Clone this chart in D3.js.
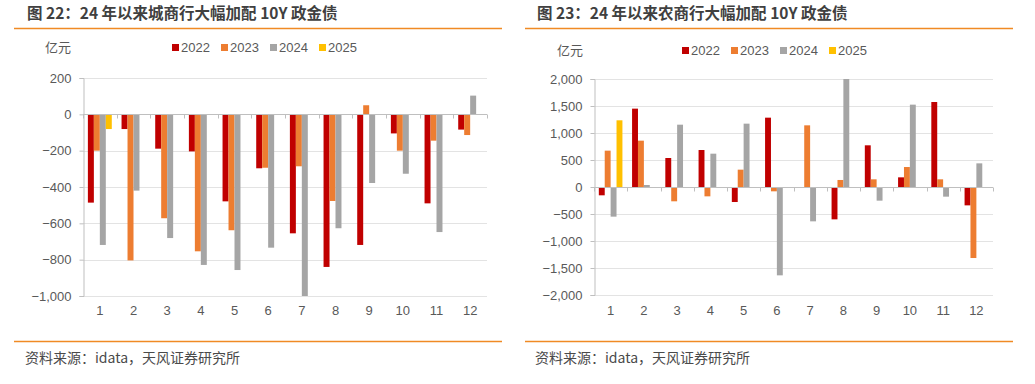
<!DOCTYPE html>
<html>
<head>
<meta charset="utf-8">
<script src="https://cdn.jsdelivr.net/npm/d3@7/dist/d3.min.js"></script>
<style>
  body { margin: 0; background: #fff; }
  svg { display: block; }
  text { font-family: "Liberation Sans", Arial, "Noto Sans CJK SC", sans-serif; }
  .cjk { font-family: "Noto Sans CJK SC", sans-serif; }
</style>
</head>
<body>
<svg width="1035" height="384"></svg>
<script>
var months = ["1", "2", "3", "4", "5", "6", "7", "8", "9", "10", "11", "12"];
var years = ["2022", "2023", "2024", "2025"];
var colors = ["#C00000", "#ED7D31", "#A5A5A5", "#FFC000"];

// 城商行 (亿元)
var city2022 = [-486, -81, -189, -204, -479, -297, -655, -840, -719, -105, -490, -84];
var city2023 = [-200, -804, -572, -754, -638, -294, -286, -477, 50, -200, -145, -114];
var city2024 = [-719, -420, -681, -829, -857, -734, -1000, -627, -378, -327, -648, 103];
var city2025 = [-81, null, null, null, null, null, null, null, null, null, null, null];
var cityTicks = [-1000, -800, -600, -400, -200, 0, 200];

// 农商行 (亿元)
var rural2022 = [-154, 1451, 537, 685, -278, 1284, null, -599, 772, 179, 1574, -340];
var rural2023 = [673, 858, -265, -173, 321, -80, 1142, 130, 142, 370, 142, -1315];
var rural2024 = [-549, 37, 1154, 617, 1173, -1636, -636, 2000, -253, 1525, -179, 438];
var rural2025 = [1235, null, null, null, null, null, null, null, null, null, null, null];
var ruralTicks = [-2000, -1500, -1000, -500, 0, 500, 1000, 1500, 2000];

var svg = d3.select("svg");
var fmt = d3.format(",");

function drawChart(o) {
    var g = svg.append("g");

    // title + orange rules
    g.append("text").attr("class", "cjk")
        .attr("x", o.titleX).attr("y", 19)
        .attr("font-size", 15.5).attr("font-weight", "bold").attr("fill", "#404040")
        .text(o.title);
    g.append("line").attr("x1", o.ruleX0).attr("x2", o.ruleX1).attr("y1", 28.5).attr("y2", 28.5)
        .attr("stroke", "#F08A24").attr("stroke-width", 1.5);
    g.append("line").attr("x1", o.ruleX0).attr("x2", o.ruleX1).attr("y1", 341.5).attr("y2", 341.5)
        .attr("stroke", "#F08A24").attr("stroke-width", 1.5);
    g.append("text").attr("class", "cjk")
        .attr("x", o.titleX - 2).attr("y", 363)
        .attr("font-size", 14).attr("fill", "#4a4a4a")
        .text("资料来源：idata，天风证券研究所");

    // unit
    g.append("text").attr("class", "cjk")
        .attr("x", o.unitX).attr("y", o.legendY + 5)
        .attr("font-size", 13).attr("fill", "#595959")
        .text("亿元");

    // legend
    var lg = g.selectAll(".lg").data(years).enter().append("g")
        .attr("transform", function(d, i) { return "translate(" + (o.legendX + i * 49) + "," + o.legendY + ")"; });
    lg.append("rect").attr("x", 0).attr("y", -3).attr("width", 7).attr("height", 7)
        .attr("fill", function(d, i) { return colors[i]; });
    lg.append("text").attr("x", 9).attr("y", 5)
        .attr("font-size", 13).attr("fill", "#595959")
        .text(function(d) { return d; });

    var x = d3.scaleBand().domain(months).range([o.x0, o.x1]).paddingInner(0.29).paddingOuter(0.145);
    var xs = d3.scaleBand().domain(years).range([0, x.bandwidth()]);
    var y = d3.scaleLinear().domain(o.domain).range([o.yBottom, o.yTop]);

    // grid
    g.selectAll(".grid").data(o.ticks).enter().append("line")
        .attr("x1", o.x0).attr("x2", o.x1)
        .attr("y1", function(d) { return Math.round(y(d)) + 0.5; })
        .attr("y2", function(d) { return Math.round(y(d)) + 0.5; })
        .attr("stroke", "#E3E3E3");

    // y axis
    var ya = g.append("g").attr("transform", "translate(" + (o.x0 + 0.5) + ",0)")
        .call(d3.axisLeft(y).tickValues(o.ticks).tickFormat(fmt).tickSize(4).tickPadding(8));
    ya.select(".domain").attr("stroke", "#BFBFBF");
    ya.selectAll(".tick line").attr("stroke", "#BFBFBF");
    ya.selectAll(".tick text").attr("font-size", 13).attr("fill", "#595959")
        .attr("font-family", "Liberation Sans, Arial, sans-serif");

    // bars
    var rows = [];
    o.series.forEach(function(s, si) {
        s.forEach(function(v, mi) {
            if (v !== null) rows.push({ m: months[mi], yr: years[si], v: v, c: colors[si] });
        });
    });
    g.selectAll(".bar").data(rows).enter().append("rect")
        .attr("x", function(d) { return x(d.m) + xs(d.yr); })
        .attr("width", xs.bandwidth())
        .attr("y", function(d) { return Math.min(y(d.v), y(0)); })
        .attr("height", function(d) { return Math.abs(y(d.v) - y(0)); })
        .attr("fill", function(d) { return d.c; });

    // zero baseline with category ticks
    var y0 = Math.round(y(0)) + 0.5;
    g.append("line").attr("x1", o.x0).attr("x2", o.x1).attr("y1", y0).attr("y2", y0)
        .attr("stroke", "#BFBFBF");
    var step = x.step();
    g.selectAll(".xt").data(d3.range(months.length + 1)).enter().append("line")
        .attr("x1", function(i) { return Math.round(o.x0 + i * step) + 0.5; })
        .attr("x2", function(i) { return Math.round(o.x0 + i * step) + 0.5; })
        .attr("y1", y0).attr("y2", y0 + 4)
        .attr("stroke", "#BFBFBF");

    // x labels
    g.selectAll(".xl").data(months).enter().append("text")
        .attr("x", function(d) { return x(d) + x.bandwidth() / 2; })
        .attr("y", 315)
        .attr("text-anchor", "middle")
        .attr("font-size", 13).attr("fill", "#595959")
        .text(function(d) { return d; });
}

drawChart({
    title: "图 22：24 年以来城商行大幅加配 10Y 政金债",
    titleX: 27, ruleX0: 14, ruleX1: 502,
    unitX: 45, legendX: 172, legendY: 47,
    x0: 83, x1: 487, yTop: 78, yBottom: 296,
    domain: [-1000, 200], ticks: cityTicks,
    series: [city2022, city2023, city2024, city2025]
});

drawChart({
    title: "图 23：24 年以来农商行大幅加配 10Y 政金债",
    titleX: 537, ruleX0: 525, ruleX1: 1013,
    unitX: 557, legendX: 682, legendY: 50,
    x0: 594, x1: 993, yTop: 79, yBottom: 295,
    domain: [-2000, 2000], ticks: ruralTicks,
    series: [rural2022, rural2023, rural2024, rural2025]
});
</script>
</body>
</html>
